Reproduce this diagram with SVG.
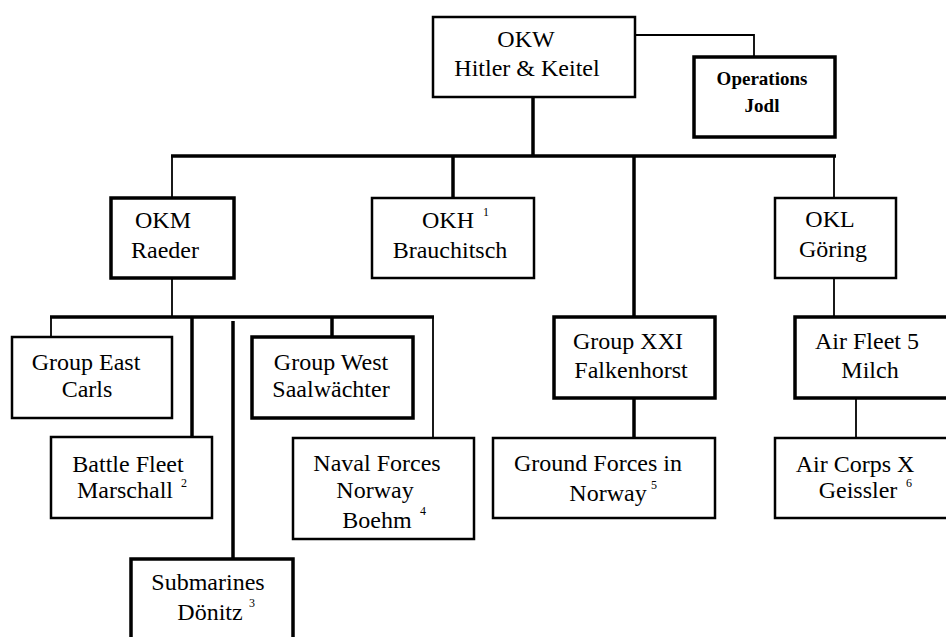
<svg xmlns="http://www.w3.org/2000/svg" width="946" height="637" viewBox="0 0 946 637">
<style>
.box{fill:#fff;stroke:#000;stroke-width:2.5}
.bx{fill:#fff;stroke:#000;stroke-width:3.5}
.t{font-family:"Liberation Serif","Times New Roman",serif;font-size:24px;fill:#000;text-anchor:middle}
.ops{font-family:"Liberation Serif","Times New Roman",serif;font-size:19px;font-weight:bold;fill:#000;text-anchor:middle}
.sup{font-family:"Liberation Serif","Times New Roman",serif;font-size:12px;fill:#000}
.thick{stroke:#000;stroke-width:3.5;fill:none}
.thin{stroke:#000;stroke-width:1.8;fill:none}
</style>
<rect width="946" height="637" fill="#fff"/>
<g id="connectors">
<polyline class="thin" points="635,35 754,35 754,57"/>
<line class="thick" x1="533" y1="97" x2="533" y2="156"/>
<line class="thick" x1="171" y1="156" x2="836" y2="156"/>
<line class="thin" x1="172" y1="156" x2="172" y2="198"/>
<line class="thick" x1="453" y1="156" x2="453" y2="198"/>
<line class="thick" x1="634" y1="156" x2="634" y2="317"/>
<line class="thin" x1="834" y1="156" x2="834" y2="198"/>
<line class="thin" x1="172" y1="278" x2="172" y2="317"/>
<line class="thick" x1="50" y1="317" x2="434" y2="317"/>
<line class="thin" x1="51" y1="317" x2="51" y2="337"/>
<line class="thick" x1="192" y1="317" x2="192" y2="437"/>
<line class="thick" x1="233" y1="321" x2="233" y2="559"/>
<line class="thick" x1="332" y1="317" x2="332" y2="337"/>
<line class="thin" x1="433" y1="317" x2="433" y2="438"/>
<line class="thick" x1="634" y1="398" x2="634" y2="438"/>
<line class="thin" x1="834" y1="278" x2="834" y2="317"/>
<line class="thin" x1="856" y1="398" x2="856" y2="438"/>
</g>
<g id="okw">
<rect class="box" x="433" y="17" width="202" height="80"/>
<text class="t" x="526" y="47">OKW</text>
<text class="t" x="527" y="76">Hitler &amp; Keitel</text>
</g>
<g id="operations">
<rect class="bx" x="694" y="57" width="141" height="80"/>
<text class="ops" x="762" y="85">Operations</text>
<text class="ops" x="762" y="112">Jodl</text>
</g>
<g id="okm">
<rect class="bx" x="111" y="198" width="123" height="80"/>
<text class="t" x="163" y="228">OKM</text>
<text class="t" x="165" y="258">Raeder</text>
</g>
<g id="okh">
<rect class="box" x="372" y="198" width="162" height="80"/>
<text class="t" x="448" y="228">OKH</text>
<text class="sup" x="483" y="216">1</text>
<text class="t" x="450" y="258">Brauchitsch</text>
</g>
<g id="okl">
<rect class="box" x="775" y="198" width="121" height="80"/>
<text class="t" x="830" y="227">OKL</text>
<text class="t" x="833" y="257">Göring</text>
</g>
<g id="group-east">
<rect class="box" x="12" y="337" width="160" height="81"/>
<text class="t" x="86" y="370">Group East</text>
<text class="t" x="87" y="397">Carls</text>
</g>
<g id="battle-fleet">
<rect class="box" x="51" y="437" width="161" height="81"/>
<text class="t" x="128" y="472">Battle Fleet</text>
<text class="t" x="125" y="498">Marschall</text>
<text class="sup" x="181" y="487">2</text>
</g>
<g id="submarines">
<rect class="bx" x="131" y="559" width="162" height="90"/>
<text class="t" x="208" y="590">Submarines</text>
<text class="t" x="210" y="620">Dönitz</text>
<text class="sup" x="249" y="607">3</text>
</g>
<g id="group-west">
<rect class="bx" x="252" y="337" width="161" height="81"/>
<text class="t" x="331" y="370">Group West</text>
<text class="t" x="331" y="397">Saalwächter</text>
</g>
<g id="naval-forces">
<rect class="box" x="293" y="438" width="181" height="101"/>
<text class="t" x="377" y="471">Naval Forces</text>
<text class="t" x="375" y="498">Norway</text>
<text class="t" x="377" y="528">Boehm</text>
<text class="sup" x="420" y="515">4</text>
</g>
<g id="group-xxi">
<rect class="bx" x="554" y="317" width="161" height="81"/>
<text class="t" x="628" y="349">Group XXI</text>
<text class="t" x="631" y="378">Falkenhorst</text>
</g>
<g id="ground-forces">
<rect class="box" x="493" y="438" width="222" height="80"/>
<text class="t" x="598" y="471">Ground Forces in</text>
<text class="t" x="608" y="501">Norway</text>
<text class="sup" x="651" y="489">5</text>
</g>
<g id="air-fleet-5">
<rect class="bx" x="795" y="317" width="160" height="81"/>
<text class="t" x="867" y="349">Air Fleet 5</text>
<text class="t" x="870" y="378">Milch</text>
</g>
<g id="air-corps-x">
<rect class="box" x="775" y="438" width="180" height="80"/>
<text class="t" x="855" y="472">Air Corps X</text>
<text class="t" x="858" y="498">Geissler</text>
<text class="sup" x="906" y="487">6</text>
</g>
</svg>
